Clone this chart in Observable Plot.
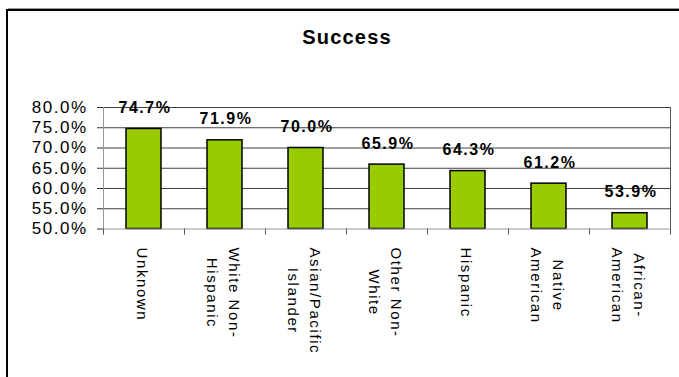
<!DOCTYPE html>
<html><head><meta charset="utf-8">
<script src="https://cdn.jsdelivr.net/npm/d3@7"></script>
<script src="https://cdn.jsdelivr.net/npm/@observablehq/plot@0.6"></script>
<style>
html,body{margin:0;padding:0;background:#fff;}
#wrap{position:relative;width:679px;height:377px;overflow:hidden;font-family:"Liberation Sans",Arial,sans-serif;}
#chart{position:absolute;left:0;top:0;}
#border{position:absolute;left:6px;top:9px;width:900px;height:600px;border-top:2px solid #000;border-left:2px solid #000;}
#shade{position:absolute;left:8px;top:8px;width:900px;height:1px;background:#999;}
#title{position:absolute;left:0;top:27px;width:694px;text-align:center;font-weight:bold;font-size:20px;line-height:20px;letter-spacing:1.2px;color:#000;}
g[font-size="17"] text{letter-spacing:1.5px;}
g[font-size="16"] text{letter-spacing:1.5px;}
g[font-size="15"] text{letter-spacing:1.6px;}
</style></head>
<body><div id="wrap"><div id="shade"></div><div id="border"></div><div id="title">Success</div><div id="chart"></div></div>
<script>
const categories = ["Unknown", "White Non-\nHispanic", "Asian/Pacific\nIslander", "Other Non-\nWhite", "Hispanic", "Native\nAmerican", "African-\nAmerican"];
const successRates = [0.747, 0.719, 0.700, 0.659, 0.643, 0.612, 0.539];
const yTicks = [0.50, 0.55, 0.60, 0.65, 0.70, 0.75, 0.80];

const W = 679, H = 377, mL = 103, mR = 9, mT = 107, mB = 148.5;
const data = categories.map((c, i) => ({category: c, rate: successRates[i]}));
const step = (W - mL - mR) / categories.length;
const font = "'Liberation Sans', Arial, sans-serif";
const ctx = document.createElement("canvas").getContext("2d");
ctx.font = `15px ${font}`;
const catSpacing = 1.6;
const blockLen = (label) => d3.max(label.split("\n"), s => ctx.measureText(s).width + s.length * catSpacing);
const pct = d3.format(".1%");

const labelMarks = data.map(d => Plot.text([d], {
  x: "category", text: "category", frameAnchor: "bottom", rotate: 90,
  textAnchor: "middle", lineAnchor: "middle", lineHeight: 1.5, fontSize: 15,
  fill: "#000", dy: 18.5 + blockLen(d.category) / 2
}));

const chart = Plot.plot({
  width: W, height: H, marginLeft: mL, marginRight: mR, marginTop: mT, marginBottom: mB,
  style: {fontFamily: font, background: "transparent", color: "#000", overflow: "visible"},
  x: {domain: categories, paddingInner: 0.568, paddingOuter: 0.284, axis: null, label: null},
  y: {domain: [0.5, 0.8], label: null},
  marks: [
    Plot.ruleY(yTicks.slice(1), {stroke: "#404040", strokeWidth: 1}),
    Plot.barY(data, {x: "category", y1: () => 0.5, y2: "rate", fill: "#99CC00", stroke: "#000", strokeWidth: 1.5}),
    Plot.ruleY([0.5], {stroke: "#999"}),
    Plot.ruleX([categories[0]], {x: d => d, dx: -step / 2, stroke: "#999"}),
    Plot.ruleX([categories[categories.length - 1]], {x: d => d, dx: step / 2, stroke: "#555"}),
    Plot.ruleX(categories, {x: d => d, dx: step / 2, y1: () => 0.5, y2: () => 0.5, insetBottom: -6, stroke: "#555"}),
    Plot.ruleX([categories[0]], {x: d => d, dx: -step / 2, y1: () => 0.5, y2: () => 0.5, insetBottom: -6, stroke: "#555"}),
    Plot.axisY({ticks: yTicks, tickFormat: pct, tickSize: 6, tickPadding: 10, fontSize: 17, stroke: "#333", label: null}),
    Plot.text(data, {x: "category", y: "rate", text: d => pct(d.rate), dy: -21, dx: 1, fontSize: 16, fontWeight: "bold", fill: "#000"}),
    ...labelMarks
  ]
});
document.getElementById("chart").appendChild(chart);
</script>
</body></html>
